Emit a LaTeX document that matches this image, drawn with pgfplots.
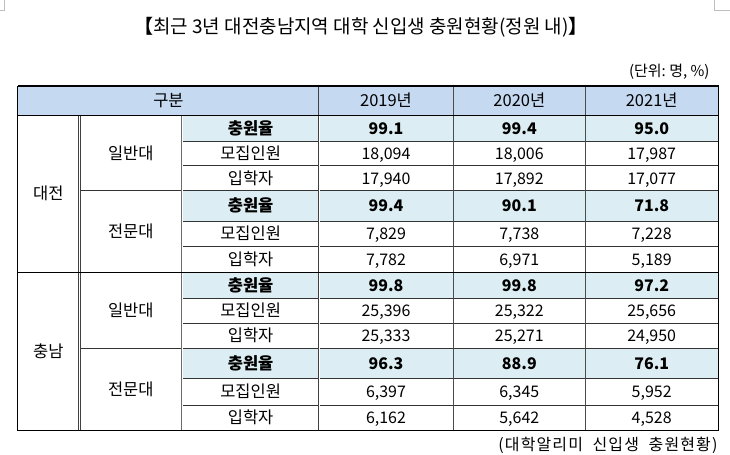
\documentclass[border=0pt]{standalone}
\usepackage{pgfplots}
\usepackage{pgfplotstable}
\pgfplotsset{compat=1.18}
\usepackage{fontspec}
\setmainfont{Noto Sans CJK KR}
\newfontfamily\spaced[LetterSpace=7]{Noto Sans CJK KR}
\definecolor{hdr}{HTML}{C5D9F1}
\definecolor{rate}{HTML}{DCEEF3}
\definecolor{ln}{HTML}{333333}

\pgfplotstableread{
x y v
386 128 99.1
519.5 128 99.4
652 128 95.0
386 205.8 99.4
519.5 205.8 90.1
652 205.8 71.8
386 285.3 99.8
519.5 285.3 99.8
652 285.3 97.2
386 363.3 96.3
519.5 363.3 88.9
652 363.3 76.1
}\ratetab

\pgfplotstableread{
x y v
386 153 18094
519.5 153 18006
652 153 17987
386 178 17940
519.5 178 17892
652 178 17077
386 233.8 7829
519.5 233.8 7738
652 233.8 7228
386 259.5 7782
519.5 259.5 6971
652 259.5 5189
386 310.8 25396
519.5 310.8 25322
652 310.8 25656
386 335.8 25333
519.5 335.8 25271
652 335.8 24950
386 391.7 6397
519.5 391.7 6345
652 391.7 5952
386 417.8 6162
519.5 417.8 5642
652 417.8 4528
}\counttab

\pgfplotstableread{
x y t
168.25 100.4 구분
386 100.4 2019년
519.5 100.4 2020년
652 100.4 2021년
48 193.6 대전
48 351.4 충남
130.5 152.8 일반대
130.5 231.4 전문대
130.5 310.3 일반대
130.5 389.4 전문대
250.5 153 모집인원
250.5 178 입학자
250.5 233.8 모집인원
250.5 259.5 입학자
250.5 310.8 모집인원
250.5 335.8 입학자
250.5 391.7 모집인원
250.5 417.8 입학자
}\labtab

\pgfplotstableread{
x y t
250.5 128 충원율
250.5 205.8 충원율
250.5 285.3 충원율
250.5 363.3 충원율
}\boldtab

\begin{document}
\begin{tikzpicture}
\begin{axis}[
  scale only axis, width=730pt, height=465pt,
  xmin=0, xmax=730, ymin=0, ymax=465, y dir=reverse,
  hide axis, clip=false,
  /pgf/number format/assume math mode=true,
  cellnode/.style={only marks, mark=*, mark size=0pt,
    mark options={draw=none, fill=none},
    nodes near coords,
    every node near coord/.append style={anchor=base, yshift=-6pt, inner sep=0pt, text=black}},
]
% fills
\addplot[draw=none, fill=hdr] coordinates {(17.5,85.7) (718.5,85.7) (718.5,115) (17.5,115)};
\addplot[draw=none, fill=rate] coordinates {(182,115) (718.5,115) (718.5,140.7) (182,140.7)};
\addplot[draw=none, fill=rate] coordinates {(182,190.5) (718.5,190.5) (718.5,221) (182,221)};
\addplot[draw=none, fill=rate] coordinates {(182,272.3) (718.5,272.3) (718.5,298.3) (182,298.3)};
\addplot[draw=none, fill=rate] coordinates {(182,348.3) (718.5,348.3) (718.5,378.3) (182,378.3)};
% thin row lines
\addplot[ln, line width=0.8pt, unbounded coords=jump] coordinates {
 (182,140.7) (718.5,140.7) (nan,nan)
 (182,165.3) (718.5,165.3) (nan,nan)
 (182,221) (718.5,221) (nan,nan)
 (182,246.7) (718.5,246.7) (nan,nan)
 (182,298.3) (718.5,298.3) (nan,nan)
 (182,323.3) (718.5,323.3) (nan,nan)
 (182,378.3) (718.5,378.3) (nan,nan)
 (182,405) (718.5,405) (nan,nan)
 (79,190.5) (718.5,190.5) (nan,nan)
 (79,348.3) (718.5,348.3)
};
% single vertical lines
\addplot[gray!60!black, line width=0.8pt, unbounded coords=jump] coordinates {
 (453,85.7) (453,430.5) (nan,nan)
 (586,85.7) (586,430.5)
};
% double vertical lines
\addplot[black!75, line width=0.8pt, double=white, double distance=0.9pt, unbounded coords=jump] coordinates {
 (79,115) (79,430.5) (nan,nan)
 (319,115) (319,430.5)
};
\addplot[gray!85!black, line width=0.8pt, double=white, double distance=0.9pt] coordinates {
 (182,115) (182,430.5)
};
\addplot[black!75, line width=0.8pt, double=hdr, double distance=0.9pt] coordinates {
 (319,85.7) (319,115)
};
% strong lines
\addplot[black, line width=1pt, unbounded coords=jump] coordinates {
 (17.5,115) (718.5,115) (nan,nan)
 (17.5,272.3) (718.5,272.3)
};
\addplot[black, line width=1.1pt] coordinates {
 (17.5,85.7) (718.5,85.7) (718.5,430.5) (17.5,430.5) (17.5,85.7)
};
% corner marks
\addplot[gray!50, line width=0.8pt] coordinates {(0,10) (4,10) (4,0)};
\addplot[gray!50, line width=0.8pt] coordinates {(715,0) (715,10) (730,10)};
% cell texts
\addplot[cellnode, point meta=explicit symbolic,
  every node near coord/.append style={font=\fontsize{16.5}{18}\selectfont}]
  table[x=x, y=y, meta=t] {\labtab};
\addplot[cellnode, point meta=explicit symbolic,
  every node near coord/.append style={font=\fontsize{16.5}{18}\selectfont\bfseries}]
  table[x=x, y=y, meta=t] {\boldtab};
\addplot[cellnode, point meta=explicit,
  nodes near coords={\pgfmathprintnumber[fixed, fixed zerofill, precision=1]{\pgfplotspointmeta}},
  every node near coord/.append style={font=\fontsize{16}{18}\selectfont\bfseries}]
  table[x=x, y=y, meta=v] {\ratetab};
\addplot[cellnode, point meta=explicit,
  nodes near coords={\pgfmathprintnumber[fixed, precision=0, 1000 sep={,}]{\pgfplotspointmeta}},
  every node near coord/.append style={font=\fontsize{16}{18}\selectfont}]
  table[x=x, y=y, meta=v] {\counttab};
% titles
\node[anchor=base, inner sep=0pt, font=\fontsize{19}{22}\selectfont] at (axis cs:361,33) {\textbf{【}최근 3년 대전충남지역 대학 신입생 충원현황(정원 내)\textbf{】}};
\node[anchor=base east, inner sep=0pt, font=\fontsize{15}{16}\selectfont] at (axis cs:710,76) {(단위:\ 명,\ \%)};
\node[anchor=base east, inner sep=0pt, font=\spaced\fontsize{16}{18}\selectfont] at (axis cs:718,451) {(대학알리미\hspace{5pt} 신입생\hspace{5pt} 충원현황)};
\end{axis}
\end{tikzpicture}
\end{document}
